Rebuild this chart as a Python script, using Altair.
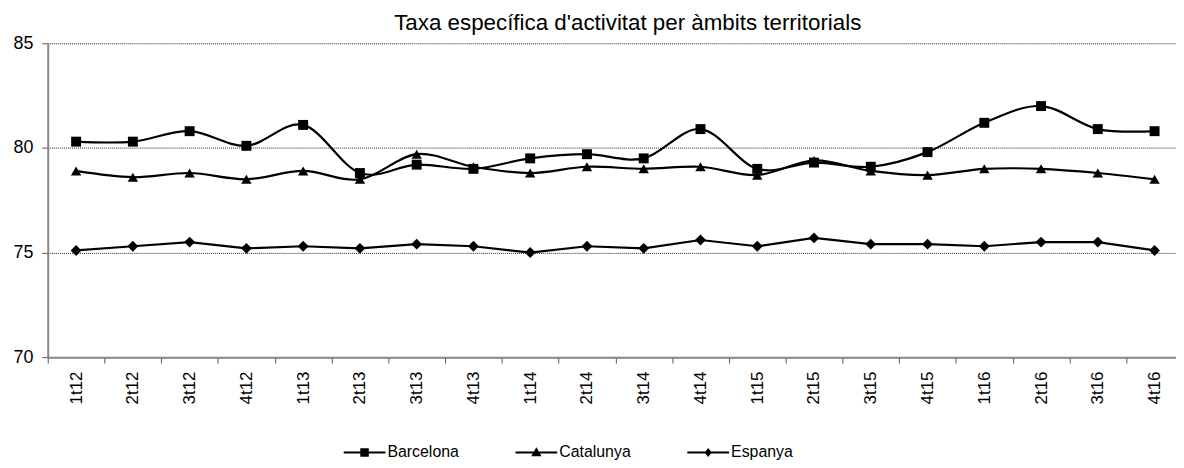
import altair as alt
import pandas as pd

periods = ["1t12", "2t12", "3t12", "4t12", "1t13", "2t13", "3t13", "4t13",
           "1t14", "2t14", "3t14", "4t14", "1t15", "2t15", "3t15", "4t15",
           "1t16", "2t16", "3t16", "4t16"]
barcelona = [80.3, 80.3, 80.8, 80.1, 81.1, 78.8, 79.2, 79.0, 79.5, 79.7,
             79.5, 80.9, 79.0, 79.3, 79.1, 79.8, 81.2, 82.0, 80.9, 80.8]
catalunya = [78.9, 78.6, 78.8, 78.5, 78.9, 78.5, 79.7, 79.1, 78.8, 79.1,
             79.0, 79.1, 78.7, 79.4, 78.9, 78.7, 79.0, 79.0, 78.8, 78.5]
espanya = [75.1, 75.3, 75.5, 75.2, 75.3, 75.2, 75.4, 75.3, 75.0, 75.3,
           75.2, 75.6, 75.3, 75.7, 75.4, 75.4, 75.3, 75.5, 75.5, 75.1]
series_names = ["Barcelona", "Catalunya", "Espanya"]
y_ticks = [70, 75, 80, 85]
title_text = "Taxa específica d'activitat per àmbits territorials"

rows = []
for name, vals in zip(series_names, [barcelona, catalunya, espanya]):
    for p, v in zip(periods, vals):
        rows.append({"period": p, "series": name, "value": v})
df = pd.DataFrame(rows)

FONT = "Liberation Sans"

x_enc = alt.X(
    "period:N", sort=periods, title=None,
    scale=alt.Scale(type="band", range=[0, 1143], paddingInner=0, paddingOuter=0),
    axis=alt.Axis(labelAngle=270, labelFontSize=17, labelFont=FONT, labelColor="black",
                  tickBand="extent", tickSize=6, tickColor="#555555", tickWidth=1,
                  domainColor="#868686", domainWidth=2, labelPadding=8, grid=False),
)
y_enc = alt.Y(
    "value:Q", title=None,
    scale=alt.Scale(domain=[70, 85], nice=False, zero=False),
    axis=alt.Axis(values=y_ticks, labelFontSize=18, labelFont=FONT, labelColor="black",
                  tickSize=6, tickColor="#555555", tickWidth=1,
                  domainColor="#868686", domainWidth=2, labelPadding=9,
                  grid=True, gridColor="#222222", gridDash=[1, 1], gridWidth=1),
)

base = alt.Chart(df)

smooth = base.transform_filter(
    alt.FieldOneOfPredicate(field="series", oneOf=["Barcelona", "Catalunya"])
).mark_line(interpolate="cardinal", color="black", strokeWidth=2.2).encode(
    x=x_enc, y=y_enc, detail="series:N"
)

straight = base.transform_filter(
    alt.FieldEqualPredicate(field="series", equal="Espanya")
).mark_line(color="black", strokeWidth=2.2).encode(x=x_enc, y=y_enc)

points = base.mark_point(filled=True, color="black", opacity=1).encode(
    x=x_enc, y=y_enc,
    shape=alt.Shape("series:N", scale=alt.Scale(domain=series_names,
                    range=["square", "triangle-up", "diamond"]), legend=None),
    size=alt.Size("series:N", scale=alt.Scale(domain=series_names, range=[100, 120, 110]),
                  legend=None),
)

legend_paths = [
    "M-4.67,-0.22H4.67V0.22H-4.67Z M-0.95,-0.95H0.95V0.95H-0.95Z",
    "M-4.67,-0.22H4.67V0.22H-4.67Z M0,-1.15L1.15,0.85L-1.15,0.85Z",
    "M-4.67,-0.22H4.67V0.22H-4.67Z M0,-1L0.8,0L0,1L-0.8,0Z",
]
dummy = base.mark_point(filled=True, color="black", opacity=0).encode(
    x=x_enc, y=y_enc,
    shape=alt.Shape("series:N", scale=alt.Scale(domain=series_names, range=legend_paths),
                    legend=alt.Legend(title=None, orient="none", legendX=311, legendY=404,
                                      direction="horizontal", symbolSize=81,
                                      symbolFillColor="black", symbolStrokeColor="black",
                                      symbolStrokeWidth=0, symbolOpacity=1,
                                      labelFontSize=16, labelFont=FONT, labelColor="black",
                                      labelOffset=15, columnPadding=55)),
)

chart = alt.layer(dummy, smooth, straight, points).resolve_scale(
    shape="independent", size="independent"
).properties(
    width=1136, height=316,
    title=alt.TitleParams(title_text, fontSize=22.5, font=FONT, fontWeight="normal",
                          color="black", anchor="middle", frame="group", dx=16, dy=22,
                          baseline="alphabetic", offset=4),
    padding={"left": 40, "top": 34, "right": 0, "bottom": 102},
    autosize=alt.AutoSizeParams(type="none"),
).configure_view(stroke=None)

chart.save("out.html", embed_options={"renderer": "svg", "actions": False})
